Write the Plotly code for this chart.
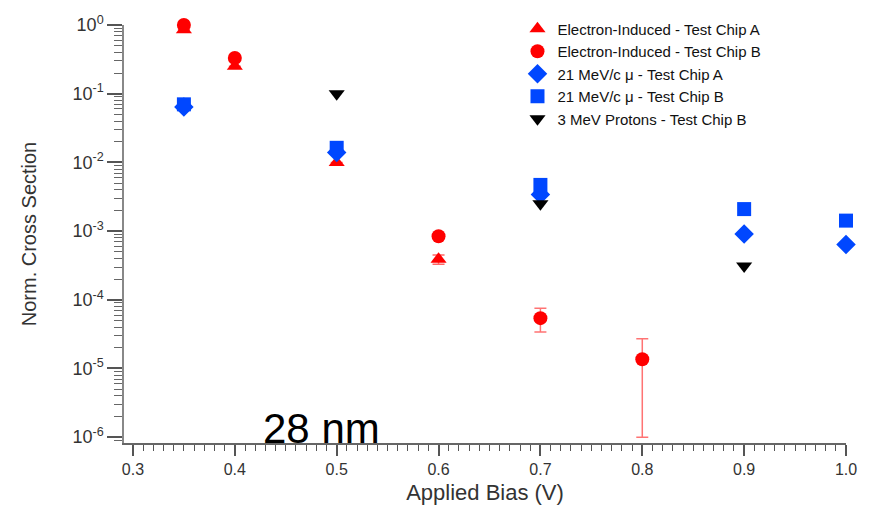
import plotly.graph_objects as go

# ---- data ----
eA_x = [0.35, 0.4, 0.5, 0.6]
eA_y = [0.85, 0.25, 0.010, 3.9e-4]
eA_err_plus = [0, 0, 0, 0.6e-4]
eA_err_minus = [0, 0, 0, 0.6e-4]

eB_x = [0.35, 0.4, 0.6, 0.7, 0.8]
eB_y = [1.0, 0.33, 8.4e-4, 5.4e-5, 1.36e-5]
eB_err_plus = [0, 0, 0, 2.1e-5, 1.34e-5]
eB_err_minus = [0, 0, 0, 2.0e-5, 1.26e-5]

muA_x = [0.35, 0.5, 0.7, 0.9, 1.0]
muA_y = [0.064, 0.0139, 3.4e-3, 9.1e-4, 6.4e-4]

muB_x = [0.35, 0.5, 0.7, 0.9, 1.0]
muB_y = [0.070, 0.0163, 4.7e-3, 2.09e-3, 1.42e-3]

pB_x = [0.5, 0.7, 0.9]
pB_y = [0.10, 2.5e-3, 3.1e-4]

names = ["Electron-Induced - Test Chip A", "Electron-Induced - Test Chip B",
         "21 MeV/c \u03bc - Test Chip A", "21 MeV/c \u03bc - Test Chip B",
         "3 MeV Protons - Test Chip B"]

y_tickvals = [1e-6, 1e-5, 1e-4, 1e-3, 1e-2, 1e-1, 1]
y_ticktext = ["10<sup>-6</sup>", "10<sup>-5</sup>", "10<sup>-4</sup>", "10<sup>-3</sup>",
              "10<sup>-2</sup>", "10<sup>-1</sup>", "10<sup>0</sup>"]
x_tickvals = [0.3, 0.4, 0.5, 0.6, 0.7, 0.8, 0.9, 1.0]
x_ticktext = ["0.3", "0.4", "0.5", "0.6", "0.7", "0.8", "0.9", "1.0"]

RED = "#ff0000"
BLUE = "#0047ff"
FONT = "Liberation Sans, Arial, Helvetica, sans-serif"

fig = go.Figure()

fig.add_trace(go.Scatter(
    x=eA_x, y=eA_y, mode="markers", name=names[0], cliponaxis=False,
    marker=dict(symbol="triangle-up", size=14, color=RED),
    error_y=dict(type="data", array=eA_err_plus, arrayminus=eA_err_minus,
                 color="rgba(255,0,0,0.6)", thickness=1.5, width=6)))
fig.add_trace(go.Scatter(
    x=eB_x, y=eB_y, mode="markers", name=names[1], cliponaxis=False,
    marker=dict(symbol="circle", size=14, color=RED),
    error_y=dict(type="data", array=eB_err_plus, arrayminus=eB_err_minus,
                 color="rgba(255,40,40,0.65)", thickness=1.5, width=6)))
fig.add_trace(go.Scatter(
    x=muA_x, y=muA_y, mode="markers", name=names[2], cliponaxis=False,
    marker=dict(symbol="diamond", size=15, color=BLUE)))
fig.add_trace(go.Scatter(
    x=muB_x, y=muB_y, mode="markers", name=names[3], cliponaxis=False,
    marker=dict(symbol="square", size=14, color=BLUE)))
fig.add_trace(go.Scatter(
    x=pB_x, y=pB_y, mode="markers", name=names[4], cliponaxis=False,
    marker=dict(symbol="triangle-down", size=14, color="#000000")))

fig.add_annotation(text="28 nm", xref="paper", yref="paper", x=0.274, y=0.034,
                   xanchor="center", yanchor="middle", showarrow=False,
                   font=dict(family=FONT, size=42, color="#000000"))

fig.update_layout(
    width=872, height=513,
    margin=dict(l=124, r=26, t=16, b=68),
    paper_bgcolor="white", plot_bgcolor="white",
    font=dict(family=FONT, color="#333333"),
    showlegend=True,
    legend=dict(x=0.545, y=1.03, xanchor="left", yanchor="top",
                bgcolor="rgba(0,0,0,0)", font=dict(family=FONT, size=15, color="#111111"),
                tracegroupgap=0),
    xaxis=dict(range=[0.2912, 1.0], tickmode="array", tickvals=x_tickvals, ticktext=x_ticktext,
               showgrid=False, zeroline=False, showline=True, linecolor="#666666", linewidth=1.5,
               ticks="outside", ticklen=11, tickwidth=1.5, tickcolor="#555555",
               tickfont=dict(family=FONT, size=16, color="#333333"),
               minor=dict(dtick=0.01, tick0=0, ticks="outside", ticklen=6, tickcolor="#555555",
                          tickwidth=1, showgrid=False),
               title=dict(text="Applied Bias (V)", font=dict(family=FONT, size=22, color="#333333"),
                          standoff=8)),
    yaxis=dict(type="log", range=[-6.085, 0.0], tickmode="array", tickvals=y_tickvals,
               ticktext=y_ticktext,
               showgrid=False, zeroline=False, showline=True, linecolor="#888888", linewidth=1.5,
               ticks="outside", ticklen=15, tickwidth=1.5, tickcolor="#555555",
               tickfont=dict(family=FONT, size=18, color="#333333"),
               minor=dict(dtick="D1", ticks="outside", ticklen=8, tickcolor="#666666",
                          tickwidth=1, showgrid=False),
               title=dict(text="Norm. Cross Section", font=dict(family=FONT, size=20, color="#333333"),
                          standoff=30)),
)

fig.write_html("out.html")
